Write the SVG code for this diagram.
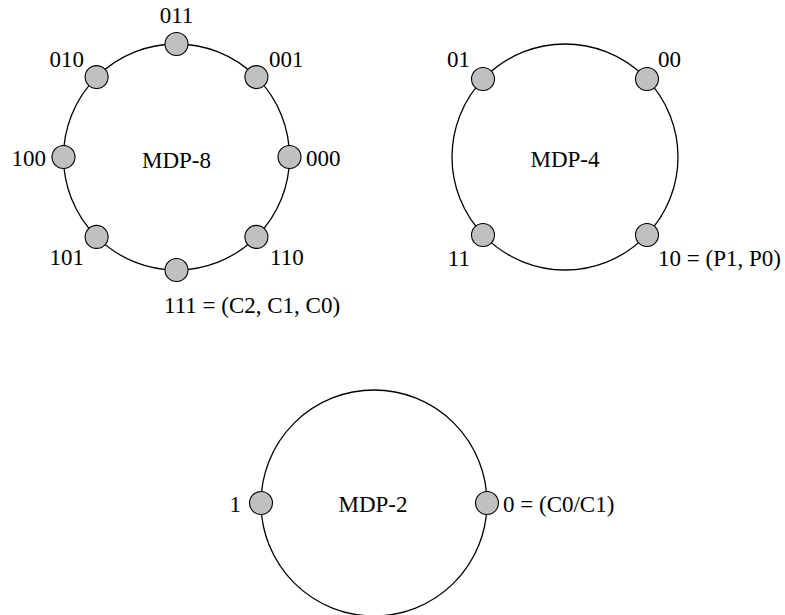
<svg xmlns="http://www.w3.org/2000/svg" width="785" height="615" viewBox="0 0 785 615">
<style>
.ring{fill:none;stroke:#000;stroke-width:1.3}
.nd{fill:#c0c0c0;stroke:#000;stroke-width:1.1}
text{font-family:"Liberation Serif","Times New Roman",serif;font-size:23px;fill:#000}
.m{text-anchor:middle}.e{text-anchor:end}
</style>
<rect width="785" height="615" fill="#fff"/>
<g id="connectors">
<circle class="ring" cx="176.5" cy="157" r="113"/>
<circle class="ring" cx="565" cy="157" r="113"/>
<circle class="ring" cx="374" cy="503" r="113"/>
</g>
<g id="mdp8">
<text class="m" x="176.5" y="168">MDP-8</text>
<g id="n8-011"><circle class="nd" cx="176.5" cy="44" r="11.5"/><text class="m" x="176.5" y="23">011</text></g>
<g id="n8-001"><circle class="nd" cx="256.4" cy="77.1" r="11.5"/><text x="269" y="67">001</text></g>
<g id="n8-000"><circle class="nd" cx="289.5" cy="157" r="11.5"/><text x="306" y="166">000</text></g>
<g id="n8-110"><circle class="nd" cx="256.4" cy="236.9" r="11.5"/><text x="270" y="265">110</text></g>
<g id="n8-111"><circle class="nd" cx="176.5" cy="270" r="11.5"/><text x="164" y="313">111 = (C2, C1, C0)</text></g>
<g id="n8-101"><circle class="nd" cx="96.6" cy="236.9" r="11.5"/><text class="e" x="84" y="265">101</text></g>
<g id="n8-100"><circle class="nd" cx="63.5" cy="157" r="11.5"/><text class="e" x="46" y="166">100</text></g>
<g id="n8-010"><circle class="nd" cx="96.6" cy="77.1" r="11.5"/><text class="e" x="84" y="67">010</text></g>
</g>
<g id="mdp4">
<text class="m" x="565" y="167">MDP-4</text>
<g id="n4-01"><circle class="nd" cx="483" cy="79" r="11.5"/><text class="e" x="470" y="67">01</text></g>
<g id="n4-00"><circle class="nd" cx="647" cy="79" r="11.5"/><text x="658" y="67">00</text></g>
<g id="n4-11"><circle class="nd" cx="483" cy="235" r="11.5"/><text class="e" x="470" y="266">11</text></g>
<g id="n4-10"><circle class="nd" cx="647" cy="235" r="11.5"/><text x="658" y="266">10 = (P1, P0)</text></g>
</g>
<g id="mdp2">
<text class="m" x="373" y="512">MDP-2</text>
<g id="n2-1"><circle class="nd" cx="261" cy="503" r="11.5"/><text class="e" x="241" y="512">1</text></g>
<g id="n2-0"><circle class="nd" cx="487" cy="503" r="11.5"/><text x="503" y="512">0 = (C0/C1)</text></g>
</g>
</svg>
